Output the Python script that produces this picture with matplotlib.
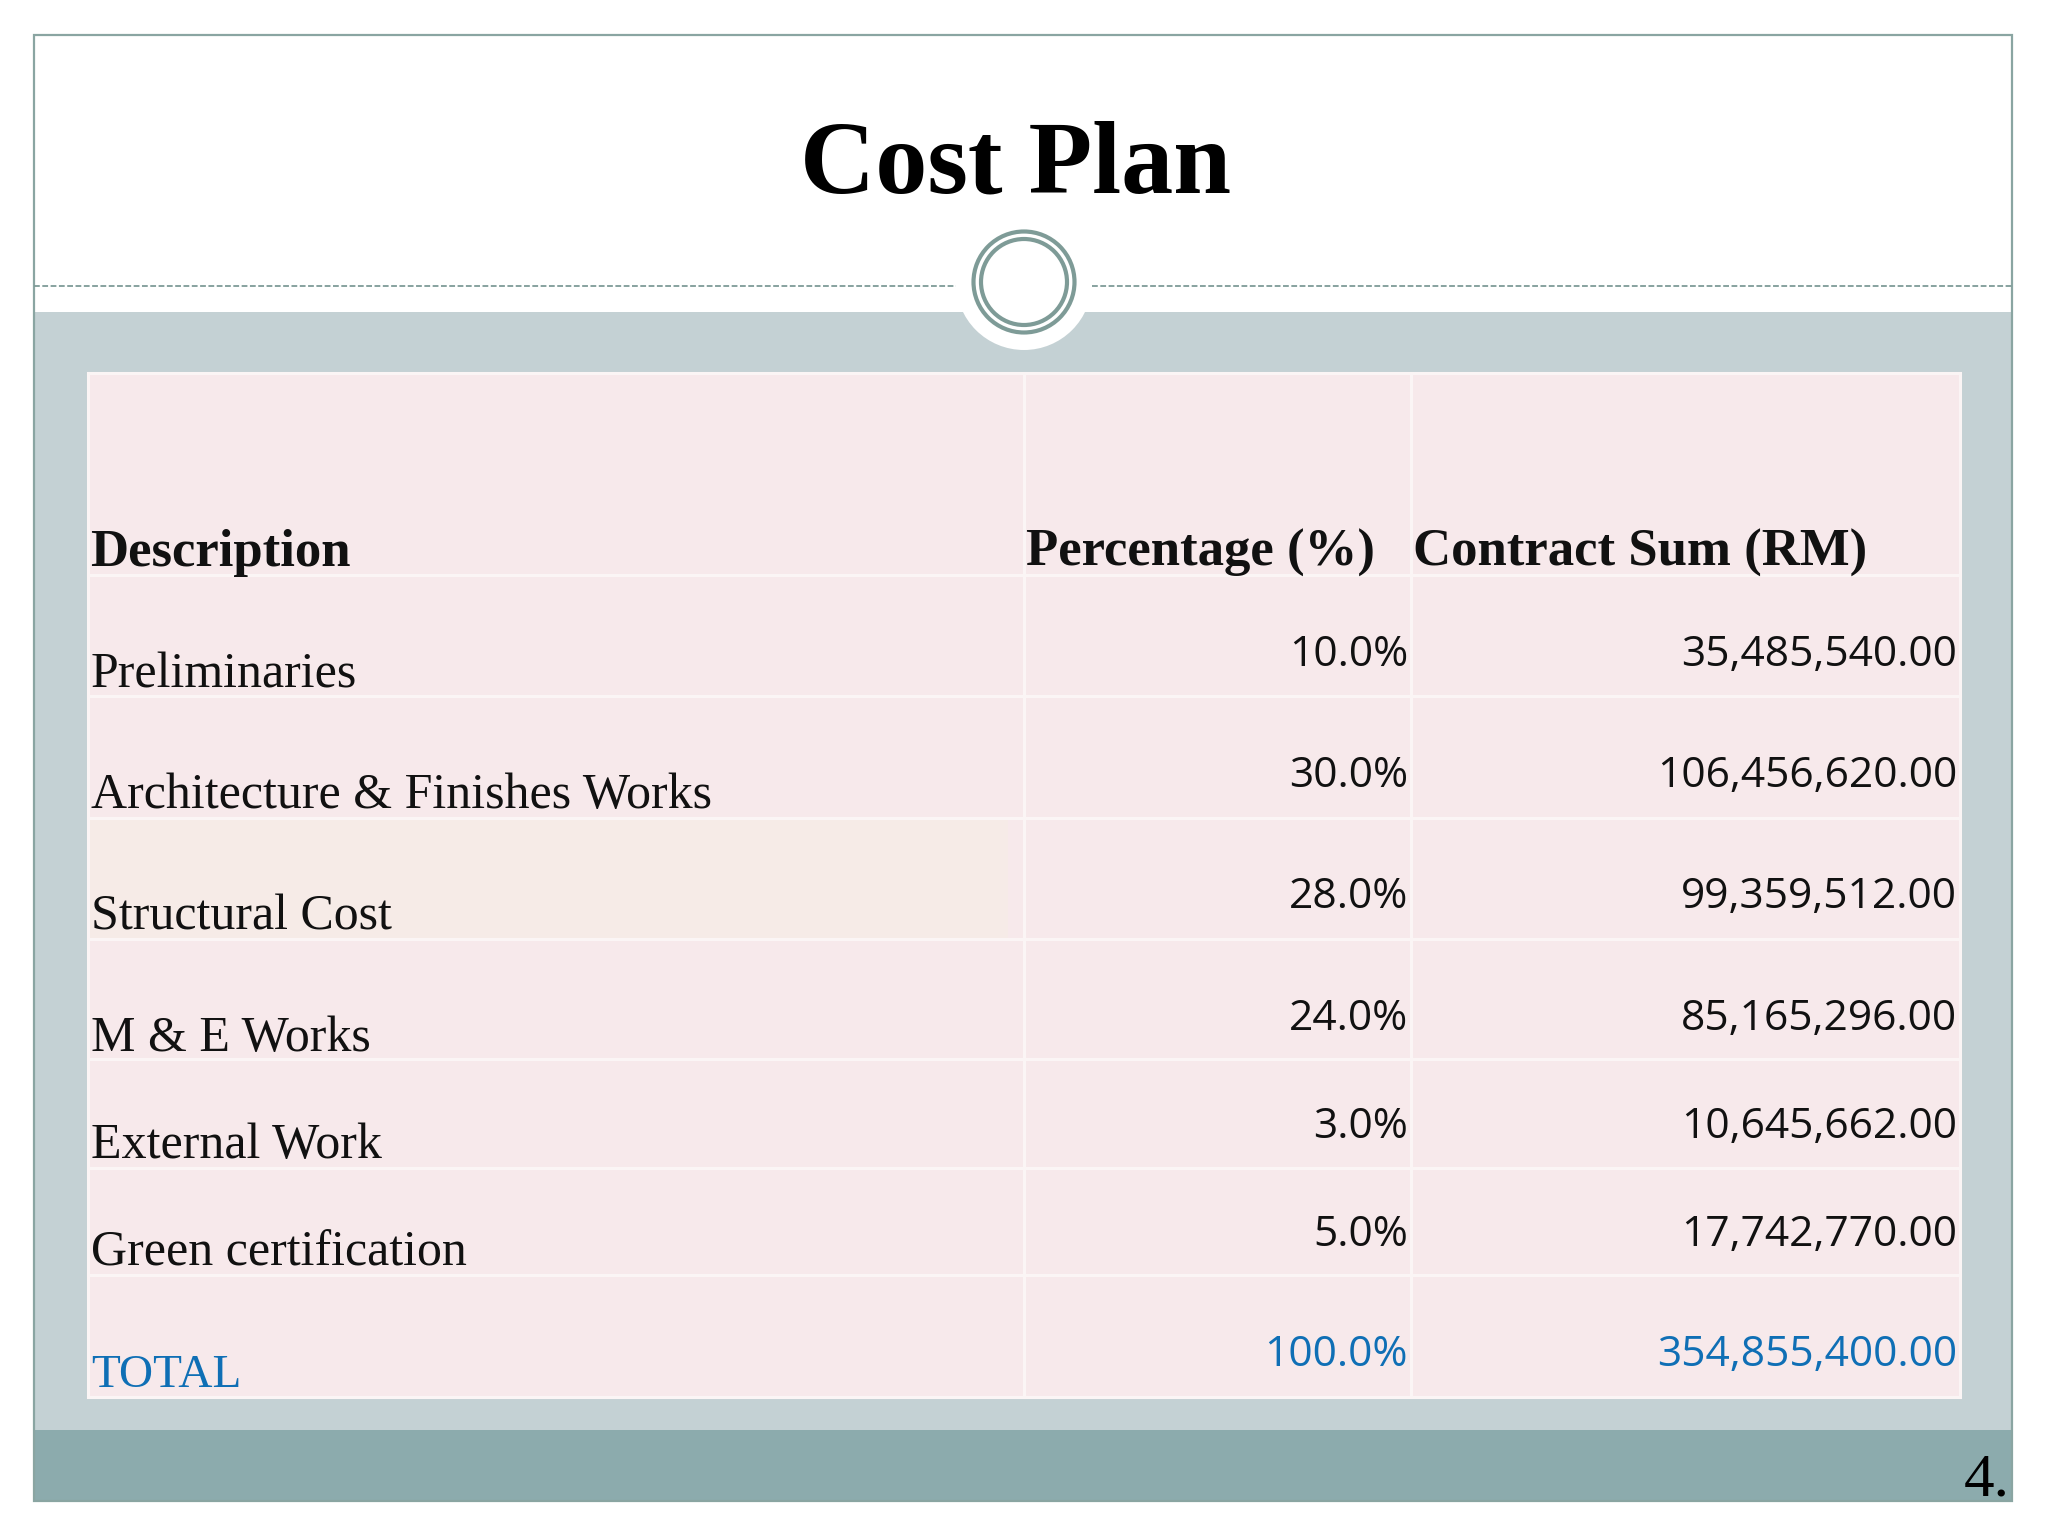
import matplotlib
matplotlib.use("Agg")
import matplotlib.pyplot as plt
from matplotlib.patches import Rectangle, Circle

title = "Cost Plan"
headers = ["Description", "Percentage (%)", "Contract Sum (RM)"]
categories = ["Preliminaries", "Architecture & Finishes Works", "Structural Cost",
              "M & E Works", "External Work", "Green certification", "TOTAL"]
percentages = ["10.0%", "30.0%", "28.0%", "24.0%", "3.0%", "5.0%", "100.0%"]
sums = ["35,485,540.00", "106,456,620.00", "99,359,512.00", "85,165,296.00",
        "10,645,662.00", "17,742,770.00", "354,855,400.00"]
page = "4."

W, H = 2048, 1536
fig = plt.figure(figsize=(W / 100, H / 100), dpi=100, facecolor="white")
ax = fig.add_axes([0, 0, 1, 1])
ax.set_xlim(0, W)
ax.set_ylim(H, 0)
ax.axis("off")

SERIF = ["Liberation Serif", "DejaVu Serif"]
SANS = ["Open Sans", "Noto Sans", "DejaVu Sans"]
TEAL = "#7e9b97"

# slide frame and bands
ax.add_patch(Rectangle((34, 35), 1978, 1466, fc="white", ec="none", zorder=1))
ax.add_patch(Rectangle((34, 312), 1978, 1118, fc="#c4d1d4", ec="none", zorder=1))
ax.add_patch(Rectangle((34, 1430), 1978, 71, fc="#8cabad", ec="none", zorder=1))
ax.add_patch(Rectangle((34, 35), 1978, 1466, fc="none", ec="#8aa5a2", lw=1.6, zorder=2))

# dashed rule and medallion
ax.plot([34, 956], [285.5, 285.5], color=TEAL, lw=1.3, ls=(0, (3.2, 1.4)), zorder=2)
ax.plot([1092, 2012], [285.5, 285.5], color=TEAL, lw=1.3, ls=(0, (3.2, 1.4)), zorder=2)
ax.add_patch(Circle((1024, 282), 68, fc="white", ec="none", zorder=3))
ax.add_patch(Circle((1024, 282), 50.5, fc="none", ec=TEAL, lw=3, zorder=4))
ax.add_patch(Circle((1024, 282), 43, fc="none", ec=TEAL, lw=3, zorder=4))

ax.text(1016, 192, title, ha="center", va="baseline", fontsize=75, fontweight="bold",
        family=SERIF, color="black", zorder=5)

# table
col_edges = [88, 1024, 1411, 1960]
row_edges = [373, 575, 696, 818, 939, 1059, 1168, 1275, 1397]
CELL = "#f7e9eb"
LINE = "#fbf5f5"
ax.add_patch(Rectangle((col_edges[0], row_edges[0]), col_edges[-1] - col_edges[0],
                       row_edges[-1] - row_edges[0], fc=CELL, ec="none", zorder=2))
ax.add_patch(Rectangle((col_edges[0], row_edges[3]), 920, row_edges[4] - row_edges[3],
                       fc="#f6ebe7", ec="none", zorder=2))
for x in col_edges:
    ax.plot([x, x], [row_edges[0], row_edges[-1]], color=LINE, lw=2.2, zorder=3)
for y in row_edges:
    ax.plot([col_edges[0], col_edges[-1]], [y, y], color=LINE, lw=2.2, zorder=3)

LEFT_PAD = 4
RIGHT_PAD = 3
header_base = 566
for i, label in enumerate(headers):
    ax.text(col_edges[i] + LEFT_PAD - 2, header_base, label, ha="left", va="baseline",
            fontsize=38, fontweight="bold", family=SERIF, color="#111111", zorder=5)

label_bases = [687, 808, 930, 1051, 1158, 1266, 1387]
num_bases = [666, 787, 908, 1030, 1138, 1246, 1366]
BLUE = "#0f6fb5"
for i, (cat, pct, val) in enumerate(zip(categories, percentages, sums)):
    is_total = cat == "TOTAL"
    color = BLUE if is_total else "#111111"
    ax.text(col_edges[0] + 3, label_bases[i], cat, ha="left", va="baseline",
            fontsize=34 if is_total else 36, family=SERIF, color=color, zorder=5)
    ax.text(col_edges[2] - RIGHT_PAD, num_bases[i], pct, ha="right", va="baseline", fontsize=30.6,
            family=SANS, color=color, zorder=5)
    ax.text(col_edges[3] - RIGHT_PAD, num_bases[i], val, ha="right", va="baseline", fontsize=30.6,
            family=SANS, color=color, zorder=5)

ax.text(2010, 1495, page, ha="right", va="baseline", fontsize=44, family=SERIF,
        color="black", zorder=5)

fig.savefig("out.png", dpi=100, facecolor="white")
